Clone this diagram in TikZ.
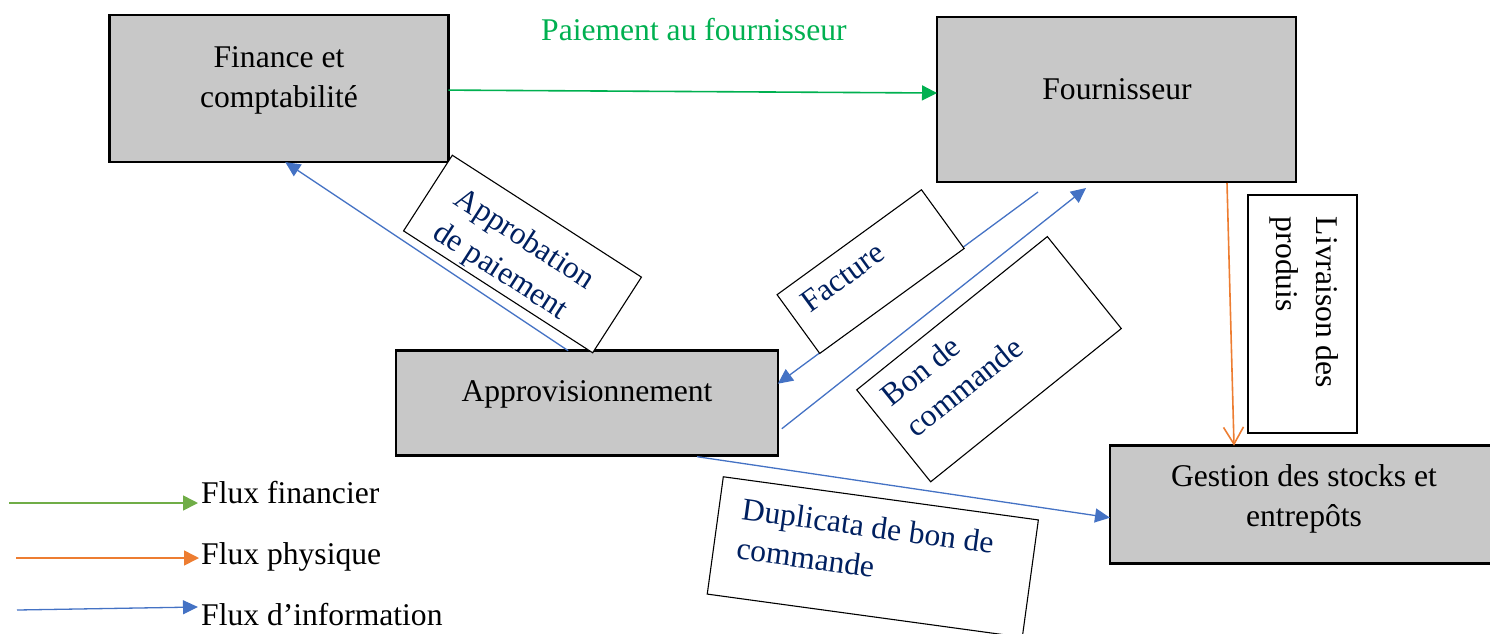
\documentclass[tikz,border=0pt]{standalone}
\usepackage{fontspec}
\setmainfont{Liberation Serif}
\usetikzlibrary{arrows.meta,calc}

\definecolor{boxgray}{RGB}{200,200,200}
\definecolor{navy}{RGB}{0,32,96}
\definecolor{paygreen}{RGB}{0,176,80}
\definecolor{legendgreen}{RGB}{112,173,71}
\definecolor{physorange}{RGB}{237,125,49}
\definecolor{infoblue}{RGB}{68,114,196}

\tikzset{
  unit/.style={draw=black, line width=2.6pt, fill=boxgray, inner sep=0pt, outer sep=0pt},
  tag/.style={draw=black, line width=1.1pt, fill=white, inner sep=0pt, outer sep=0pt},
  % multi-line texts are placed by the baseline of their last line
  bodytext/.style={font=\fontsize{31.6}{40}\selectfont, inner sep=0pt, align=center, anchor=base},
  tagtext/.style={font=\fontsize{31.6}{40}\selectfont, text=navy, inner sep=0pt, align=left, anchor=base west},
  legendtext/.style={font=\fontsize{31.6}{40}\selectfont, inner sep=0pt, anchor=base west},
  infoflow/.style={draw=infoblue, line width=1.3pt, -{Triangle[length=15pt,width=14pt]}},
  payflow/.style={draw=paygreen, line width=1.6pt, -{Triangle[length=15pt,width=15pt]}},
  goodsflow/.style={draw=physorange, line width=1.6pt, -{Straight Barb[length=17pt,width=20pt,line width=1.6pt]}},
}

\begin{document}
\begin{tikzpicture}[x=1pt,y=-1pt]
\useasboundingbox (0,0) rectangle (1490,633);

% main units
\node[unit, minimum width=339pt, minimum height=147pt] (fin) at (278.8,88.6) {};
\node[unit, minimum width=359pt, minimum height=165pt] (four) at (1116.5,99.5) {};
\node[unit, minimum width=381.7pt, minimum height=105pt] (appv) at (587,403.2) {};
\node[unit, minimum width=388pt, minimum height=117.6pt] (gest) at (1304,504.5) {};

% free ends of connectors
\coordinate (factstart) at ($(four.south west)+(101,10)$);
\coordinate (bonstart) at ($(appv.north east)+(4,78)$);

% flows
\draw[payflow] ($(fin.north east)+(0,75)$) -- ($(four.north west)+(0,76)$);
\draw[infoflow] ($(appv.north west)+(172,0)$) -- ($(fin.south west)+(176,0)$);
\draw[infoflow] (factstart) -- ($(appv.north east)+(0,33)$);
\draw[infoflow] (bonstart) -- ($(four.south west)+(149,6)$);
\draw[infoflow] ($(appv.south west)+(301,1)$) -- ($(gest.north west)+(0,72)$);
\draw[goodsflow] ($(four.south west)+(290,1)$) -- ($(gest.north west)+(124,0)$);

% flow labels
\node[tag, minimum width=225pt, minimum height=90pt, rotate=-32.8] (apprtag) at (522.5,254) {};
\node[tag, minimum width=178.5pt, minimum height=72.6pt, rotate=36] (facttag) at (870.6,271.6) {};
\node[tag, minimum width=244.6pt, minimum height=118pt, rotate=38.8] (bontag) at (989,359.2) {};
\node[tag, minimum width=318pt, minimum height=118.4pt, rotate=-7.8] (duptag) at (872.8,557) {};
\node[tag, minimum width=109pt, minimum height=238pt] (livtag) at (1302.5,314) {};

\node[tagtext, rotate=-32.8] (apprtxt) at (431,236.9) {Approbation\\de paiement};
\node[tagtext, rotate=36] (facttxt) at (810,313.3) {Facture};
\node[tagtext, rotate=38.8] (bontxt) at (916.8,438.5) {Bon de\\commande};
\node[tagtext, rotate=-7.8] (duptxt) at (735.3,558.9) {Duplicata de bon de\\commande};
\node[tagtext, text=black, rotate=-90] (livtxt) at (1276.7,216.7) {Livraison des\\produis};
\node[legendtext, text=paygreen] (paytxt) at (541,40) {Paiement au fournisseur};

% unit names
\node[bodytext] (fintxt) at (279,107.3) {Finance et\\comptabilité};
\node[bodytext] (fourtxt) at (1117,99) {Fournisseur};
\node[bodytext] (appvtxt) at (587,401.7) {Approvisionnement};
\node[bodytext] (gesttxt) at (1304,526.7) {Gestion des stocks et\\entrepôts};

% legend
\node[legendtext] (lgfin) at (201,503) {Flux financier};
\node[legendtext] (lgphy) at (201,564) {Flux physique};
\node[legendtext] (lginf) at (201,625) {Flux d’information};
\coordinate (lgfinstart) at (9,503);
\coordinate (lgphystart) at (16,558);
\coordinate (lginfstart) at (17,610);
\draw[draw=legendgreen, line width=1.6pt, -{Triangle[length=15pt,width=15pt]}] (lgfinstart) -- ($(lgfin.base west)+(-3,0)$);
\draw[draw=physorange, line width=1.6pt, -{Triangle[length=15pt,width=15pt]}] (lgphystart) -- ($(lgphy.base west)+(-2,-6)$);
\draw[infoflow] (lginfstart) -- ($(lginf.base west)+(-3,-18)$);
\end{tikzpicture}
\end{document}
